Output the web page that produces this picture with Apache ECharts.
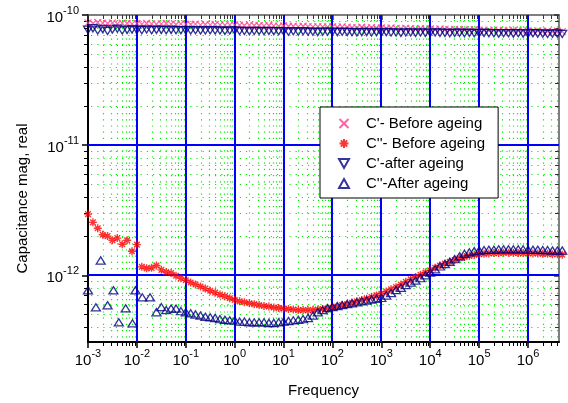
<!DOCTYPE html>
<html><head><meta charset="utf-8">
<script src="https://cdn.jsdelivr.net/npm/echarts@6/dist/echarts.min.js"></script>
<style>html,body{margin:0;padding:0;background:#fff}#c{width:568px;height:403px}</style>
</head><body><div id="c"></div>
<script>
// Frequency points (Hz)
const freq = [
 1e-3,1.26e-3,1.58e-3,2e-3,2.51e-3,3.16e-3,3.98e-3,5.01e-3,6.31e-3,7.94e-3,
 1e-2,1.26e-2,1.58e-2,2e-2,2.51e-2,3.16e-2,3.98e-2,5.01e-2,6.31e-2,7.94e-2,
 1e-1,1.26e-1,1.58e-1,2e-1,2.51e-1,3.16e-1,3.98e-1,5.01e-1,6.31e-1,7.94e-1,
 1,1.26,1.58,2,2.51,3.16,3.98,5.01,6.31,7.94,
 10,12.6,15.8,20,25.1,31.6,39.8,50.1,63.1,79.4,
 100,126,158,200,251,316,398,501,631,794,
 1e3,1.26e3,1.58e3,2e3,2.51e3,3.16e3,3.98e3,5.01e3,6.31e3,7.94e3,
 1e4,1.26e4,1.58e4,2e4,2.51e4,3.16e4,3.98e4,5.01e4,6.31e4,7.94e4,
 1e5,1.26e5,1.58e5,2e5,2.51e5,3.16e5,3.98e5,5.01e5,6.31e5,7.94e5,
 1e6,1.26e6,1.58e6,2e6,2.51e6,3.16e6,3.98e6,5.01e6
];
// C' before ageing
const cpBefore = [
 8.7e-11,8.6e-11,8.75e-11,8.65e-11,8.6e-11,8.7e-11,8.55e-11,8.65e-11,8.6e-11,8.55e-11,
 8.6e-11,8.5e-11,8.6e-11,8.55e-11,8.5e-11,8.55e-11,8.6e-11,8.5e-11,8.45e-11,8.55e-11,
 8.5e-11,8.45e-11,8.5e-11,8.4e-11,8.45e-11,8.4e-11,8.45e-11,8.4e-11,8.35e-11,8.4e-11,
 8.4e-11,8.35e-11,8.3e-11,8.35e-11,8.3e-11,8.3e-11,8.25e-11,8.3e-11,8.25e-11,8.2e-11,
 8.25e-11,8.2e-11,8.2e-11,8.15e-11,8.2e-11,8.15e-11,8.1e-11,8.15e-11,8.1e-11,8.1e-11,
 8.1e-11,8.05e-11,8.1e-11,8.05e-11,8.0e-11,8.0e-11,8.05e-11,7.95e-11,8.0e-11,7.95e-11,
 7.95e-11,7.9e-11,7.95e-11,7.9e-11,7.85e-11,7.9e-11,7.85e-11,7.8e-11,7.85e-11,7.8e-11,
 7.8e-11,7.75e-11,7.8e-11,7.75e-11,7.7e-11,7.75e-11,7.7e-11,7.7e-11,7.65e-11,7.7e-11,
 7.65e-11,7.65e-11,7.6e-11,7.65e-11,7.6e-11,7.6e-11,7.55e-11,7.6e-11,7.55e-11,7.55e-11,
 7.55e-11,7.5e-11,7.55e-11,7.5e-11,7.5e-11,7.45e-11,7.5e-11,7.45e-11
];
// C'' before ageing
const cppBefore = [
 2.95e-12,2.55e-12,2.3e-12,2.05e-12,2.0e-12,1.86e-12,1.93e-12,1.73e-12,1.86e-12,1.53e-12,
 1.72e-12,1.16e-12,1.13e-12,1.14e-12,1.19e-12,1.10e-12,1.06e-12,1.04e-12,0.99e-12,0.95e-12,
 0.915e-12,0.88e-12,0.85e-12,0.82e-12,0.79e-12,0.76e-12,0.735e-12,0.71e-12,0.69e-12,0.665e-12,
 0.645e-12,0.63e-12,0.62e-12,0.61e-12,0.60e-12,0.59e-12,0.58e-12,0.575e-12,0.565e-12,0.56e-12,
 0.555e-12,0.55e-12,0.545e-12,0.54e-12,0.54e-12,0.54e-12,0.54e-12,0.545e-12,0.55e-12,0.555e-12,
 0.565e-12,0.575e-12,0.59e-12,0.60e-12,0.615e-12,0.63e-12,0.645e-12,0.66e-12,0.68e-12,0.70e-12,
 0.72e-12,0.75e-12,0.78e-12,0.81e-12,0.85e-12,0.89e-12,0.93e-12,0.97e-12,1.01e-12,1.05e-12,
 1.09e-12,1.14e-12,1.19e-12,1.23e-12,1.27e-12,1.31e-12,1.35e-12,1.38e-12,1.41e-12,1.43e-12,
 1.45e-12,1.46e-12,1.47e-12,1.48e-12,1.48e-12,1.49e-12,1.49e-12,1.49e-12,1.48e-12,1.48e-12,
 1.48e-12,1.47e-12,1.47e-12,1.46e-12,1.46e-12,1.45e-12,1.45e-12,1.44e-12
];
// C' after ageing
const cpAfter = [
 7.7e-11,7.9e-11,7.6e-11,7.8e-11,7.55e-11,7.75e-11,7.85e-11,7.6e-11,7.7e-11,7.75e-11,
 7.7e-11,7.65e-11,7.75e-11,7.65e-11,7.7e-11,7.7e-11,7.65e-11,7.7e-11,7.65e-11,7.65e-11,
 7.65e-11,7.6e-11,7.65e-11,7.6e-11,7.6e-11,7.65e-11,7.6e-11,7.6e-11,7.55e-11,7.6e-11,
 7.6e-11,7.55e-11,7.55e-11,7.5e-11,7.55e-11,7.55e-11,7.5e-11,7.55e-11,7.5e-11,7.5e-11,
 7.5e-11,7.45e-11,7.5e-11,7.45e-11,7.5e-11,7.45e-11,7.45e-11,7.4e-11,7.45e-11,7.45e-11,
 7.45e-11,7.4e-11,7.45e-11,7.4e-11,7.4e-11,7.35e-11,7.4e-11,7.4e-11,7.35e-11,7.4e-11,
 7.35e-11,7.4e-11,7.35e-11,7.35e-11,7.3e-11,7.35e-11,7.35e-11,7.3e-11,7.35e-11,7.3e-11,
 7.3e-11,7.35e-11,7.3e-11,7.3e-11,7.25e-11,7.3e-11,7.3e-11,7.25e-11,7.3e-11,7.25e-11,
 7.25e-11,7.3e-11,7.25e-11,7.25e-11,7.2e-11,7.25e-11,7.25e-11,7.2e-11,7.25e-11,7.2e-11,
 7.2e-11,7.25e-11,7.2e-11,7.2e-11,7.15e-11,7.2e-11,7.2e-11,7.15e-11
];
// C'' after ageing (on the common frequency grid; null where absent)
const cppAfter = [
 null,null,null,null,null,null,null,null,null,null,
 null,null,null,null,0.52e-12,0.57e-12,0.54e-12,0.555e-12,0.555e-12,0.53e-12,
 0.52e-12,0.51e-12,0.50e-12,0.49e-12,0.48e-12,0.475e-12,0.47e-12,0.46e-12,0.455e-12,0.45e-12,
 0.45e-12,0.44e-12,0.44e-12,0.435e-12,0.435e-12,0.435e-12,0.435e-12,0.43e-12,0.43e-12,0.435e-12,
 0.44e-12,0.445e-12,0.45e-12,0.455e-12,0.46e-12,0.47e-12,0.49e-12,0.52e-12,0.54e-12,0.56e-12,
 0.57e-12,0.58e-12,0.59e-12,0.60e-12,0.61e-12,0.62e-12,0.63e-12,0.64e-12,0.65e-12,0.66e-12,
 0.67e-12,0.70e-12,0.73e-12,0.77e-12,0.80e-12,0.84e-12,0.88e-12,0.91e-12,0.95e-12,1.0e-12,
 1.05e-12,1.11e-12,1.17e-12,1.22e-12,1.27e-12,1.33e-12,1.40e-12,1.46e-12,1.50e-12,1.53e-12,
 1.55e-12,1.56e-12,1.57e-12,1.57e-12,1.58e-12,1.58e-12,1.58e-12,1.58e-12,1.58e-12,1.58e-12,
 1.57e-12,1.57e-12,1.57e-12,1.56e-12,1.56e-12,1.55e-12,1.55e-12,1.55e-12
];
// C'' after ageing, scattered low-frequency points
const freqLowAfter = [1e-3,1.45e-3,1.82e-3,2.51e-3,3.31e-3,4.27e-3,5.89e-3,8.13e-3,9.33e-3,1.29e-2,1.86e-2];
const cppAfterLow = [0.767e-12,0.567e-12,1.30e-12,0.588e-12,0.767e-12,0.435e-12,0.557e-12,0.427e-12,0.767e-12,0.677e-12,0.677e-12];

const xDecades = [1e-3,1e-2,1e-1,1,10,100,1e3,1e4,1e5,1e6];
const yDecades = [1e-12,1e-11,1e-10];
const legendNames = ["C'- Before ageing","C''- Before ageing","C'-after ageing","C''-After ageing"];
const xTitle = 'Frequency';
const yTitle = 'Capacitance mag, real';

const X_MIN = 1e-3, X_MAX = 4.3e6, Y_MIN = 3.07e-13, Y_MAX = 1e-10;
const FONT = 'Liberation Sans, Arial, sans-serif';

// grid line positions (axis structure)
const gridItems = [];
for (let d = -3; d <= 6; d++) for (let m = 2; m <= 9; m++) { const v = m * Math.pow(10, d); if (v < X_MAX) gridItems.push([v, Y_MAX, 0]); }
for (let d = -13; d <= -11; d++) for (let m = 2; m <= 9; m++) { const v = m * Math.pow(10, d); if (v > Y_MIN && v < Y_MAX) gridItems.push([X_MIN, v, 1]); }
xDecades.forEach(v => { if (v > X_MIN) gridItems.push([v, Y_MAX, 2]); });
yDecades.forEach(v => { if (v < Y_MAX) gridItems.push([X_MIN, v, 3]); });

function renderGrid(params, api) {
  const t = api.value(2);
  const cs = params.coordSys;
  const x0 = cs.x, x1 = cs.x + cs.width, y0 = cs.y, y1 = cs.y + cs.height;
  const green = {stroke:'#00f000', lineWidth:1.2, lineDash:[1.2,5]};
  if (t === 0 || t === 2) {
    const p = api.coord([api.value(0), api.value(1)]);
    if (t === 2) { const x = Math.round(p[0]); return {type:'line', shape:{x1:x,y1:y0,x2:x,y2:y1}, style:{stroke:'#0000ff', lineWidth:2}}; }
    const x = Math.round(p[0]) + 0.5;
    return {type:'group', children:[
      {type:'line', shape:{x1:x,y1:y0+5,x2:x,y2:y1}, style:green},
      {type:'line', shape:{x1:x,y1:y1,x2:x,y2:y1+4}, style:{stroke:'#000', lineWidth:1}},
      {type:'line', shape:{x1:x,y1:y0,x2:x,y2:y0+4}, style:{stroke:'#333', lineWidth:1}}
    ]};
  } else {
    const p = api.coord([api.value(0), api.value(1)]);
    if (t === 3) { const y = Math.round(p[1]); return {type:'line', shape:{x1:x0,y1:y,x2:x1,y2:y}, style:{stroke:'#0000ff', lineWidth:2}}; }
    const y = Math.round(p[1]) + 0.5;
    return {type:'group', children:[
      {type:'line', shape:{x1:x0+3,y1:y,x2:x1-5,y2:y}, style:green},
      {type:'line', shape:{x1:x0-4,y1:y,x2:x0,y2:y}, style:{stroke:'#000', lineWidth:1}},
      {type:'line', shape:{x1:x1-4,y1:y,x2:x1,y2:y}, style:{stroke:'#333', lineWidth:1}}
    ]};
  }
}

function powLabel(value) {
  const l = Math.log10(value), e = Math.round(l);
  if (Math.abs(l - e) > 1e-6) return '';
  return '{b|10}{s|' + e + '}';
}
const rich = {
  b: {fontSize:15, fontFamily:FONT, color:'#000', lineHeight:20, verticalAlign:'bottom'},
  s: {fontSize:11, fontFamily:FONT, color:'#000', lineHeight:20, verticalAlign:'top'}
};

const chart = echarts.init(document.getElementById('c'), null, {renderer:'canvas'});
const afterData = freq.map((f, i) => [f, cppAfter[i]]).filter(p => p[1] != null)
  .concat(freqLowAfter.map((f, i) => [f, cppAfterLow[i]]));

chart.setOption({
  animation:false,
  backgroundColor:'#fff',
  grid:{left:88, top:15, width:471, height:327},
  xAxis:[{
    type:'log', logBase:10, min:X_MIN, max:X_MAX, position:'bottom',
    name:xTitle, nameLocation:'middle', nameGap:41,
    nameTextStyle:{fontSize:15, fontFamily:FONT, color:'#000'},
    axisLine:{show:true, onZero:false, lineStyle:{color:'#000', width:2}},
    axisTick:{show:true, inside:false, length:6, customValues:xDecades, lineStyle:{color:'#000', width:1.5}},
    axisLabel:{customValues:xDecades, formatter:powLabel, rich:rich, margin:6},
    splitLine:{show:false}, minorTick:{show:false}
  },{
    type:'log', logBase:10, min:X_MIN, max:X_MAX, position:'top',
    axisLine:{show:true, onZero:false, lineStyle:{color:'#555', width:1.5}},
    axisTick:{show:true, inside:true, length:5, customValues:xDecades, lineStyle:{color:'#333', width:1.5}},
    axisLabel:{show:false}, splitLine:{show:false}
  }],
  yAxis:[{
    type:'log', logBase:10, min:Y_MIN, max:Y_MAX, position:'left',
    name:yTitle, nameLocation:'middle', nameGap:58, nameRotate:90,
    nameTextStyle:{fontSize:15, fontFamily:FONT, color:'#000', padding:[0,40,0,0]},
    axisLine:{show:true, onZero:false, lineStyle:{color:'#000', width:2}},
    axisTick:{show:true, inside:false, length:6, customValues:yDecades, lineStyle:{color:'#000', width:1.5}},
    axisLabel:{customValues:yDecades, formatter:powLabel, rich:rich, margin:9},
    splitLine:{show:false}
  },{
    type:'log', logBase:10, min:Y_MIN, max:Y_MAX, position:'right',
    axisLine:{show:true, onZero:false, lineStyle:{color:'#555', width:1.5}},
    axisTick:{show:true, inside:true, length:5, customValues:yDecades, lineStyle:{color:'#333', width:1.5}},
    axisLabel:{show:false}, splitLine:{show:false}
  }],
  legend:{
    orient:'vertical', left:320, top:107,
    backgroundColor:'#fff', borderColor:'#000', borderWidth:1, borderRadius:0,
    padding:[9,13,7,18], itemGap:5, itemWidth:34, itemHeight:9,
    textStyle:{fontSize:15, fontFamily:FONT, color:'#000'},
    data:legendNames
  },
  series:[
    {type:'custom', silent:true, clip:false, z:1, renderItem:renderGrid, data:gridItems, xAxisIndex:0, yAxisIndex:0},
    {name:legendNames[0], type:'scatter', clip:false, z:3,
     data:freq.map((f,i)=>[f, cpBefore[i]]),
     symbol:'path://M0,0L10,10M10,0L0,10', symbolSize:7, symbolKeepAspect:true,
     itemStyle:{color:'transparent', borderColor:'#ff3d8b', borderWidth:1.2}},
    {name:legendNames[1], type:'scatter', clip:false, z:3,
     data:freq.map((f,i)=>[f, cppBefore[i]]),
     symbol:'path://M5,0L5,10M0,5L10,5M1.5,1.5L8.5,8.5M8.5,1.5L1.5,8.5', symbolSize:8, symbolKeepAspect:true,
     itemStyle:{color:'transparent', borderColor:'#ff0000', borderWidth:1.4}},
    {name:legendNames[2], type:'scatter', clip:false, z:3,
     data:freq.map((f,i)=>[f, cpAfter[i]]),
     symbol:'path://M0,0L10,0L5,9Z', symbolSize:[9,8], symbolKeepAspect:true,
     itemStyle:{color:'transparent', borderColor:'#000080', borderWidth:1.3}},
    {name:legendNames[3], type:'scatter', clip:false, z:3,
     data:afterData,
     symbol:'path://M5,0L10,9L0,9Z', symbolSize:[9,8], symbolKeepAspect:true,
     itemStyle:{color:'transparent', borderColor:'#000080', borderWidth:1.3}}
  ]
});
</script>
</body></html>
